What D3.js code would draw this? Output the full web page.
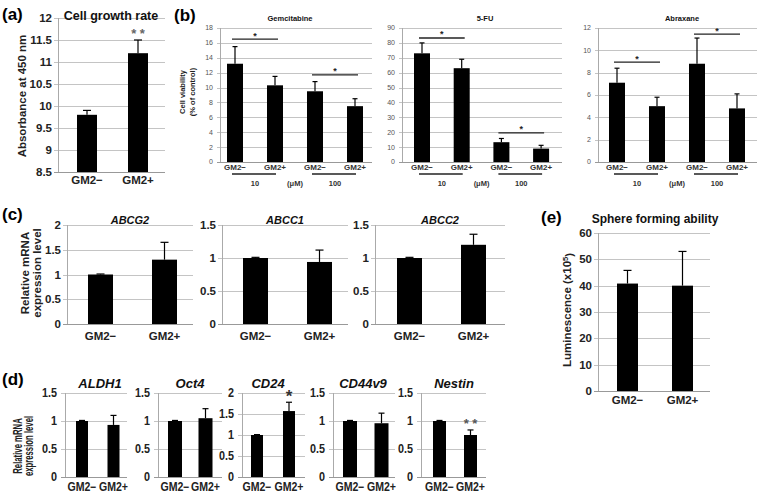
<!DOCTYPE html>
<html><head><meta charset="utf-8">
<script src="https://cdn.jsdelivr.net/npm/d3@7/dist/d3.min.js"></script>
<style>body{margin:0;background:#fff}svg{display:block}text{font-family:"Liberation Sans",Arial,sans-serif}</style>
</head><body>
<script>
// ---------- DATA ----------
const groupLabels = ["GM2−", "GM2+"];
const drugLabels = ["GM2−", "GM2+", "GM2−", "GM2+"];
const doseLabels = ["10", "100"];

const growthVals = [9.8, 11.2];
const growthErr = [0.1, 0.3];
const growthTicks = [8.5, 9, 9.5, 10, 10.5, 11, 11.5, 12];

const gemVals = [13.2, 10.3, 9.5, 7.5];
const gemErr = [2.3, 1.2, 1.3, 1.0];
const gemSig = [16.5, 11.7];
const gemTicks = [0, 2, 4, 6, 8, 10, 12, 14, 16, 18];

const fuVals = [73, 63, 13.3, 9];
const fuErr = [7, 6, 2.5, 2.2];
const fuSig = [83.3, 19.5];
const fuTicks = [0, 10, 20, 30, 40, 50, 60, 70, 80, 90];

const abrVals = [7.1, 5.0, 8.8, 4.8];
const abrErr = [1.3, 0.8, 2.3, 1.3];
const abrSig = [8.95, 11.45];
const abrTicks = [0, 2, 4, 6, 8, 10, 12];

const abcg2Vals = [1.0, 1.3], abcg2Err = [0.01, 0.35];
const abcc1Vals = [1.0, 0.94], abcc1Err = [0.01, 0.18];
const abcc2Vals = [1.0, 1.2], abcc2Err = [0.01, 0.16];
const ticks2 = [0, 0.5, 1, 1.5, 2];
const ticks15 = [0, 0.5, 1, 1.5];

const sphereVals = [40.8, 40.0], sphereErr = [5, 13];
const sphereTicks = [0, 10, 20, 30, 40, 50, 60];

const aldh1Vals = [1.0, 0.93], aldh1Err = [0.01, 0.17];
const oct4Vals = [1.0, 1.05], oct4Err = [0.01, 0.17];
const cd24Vals = [1.0, 1.57], cd24Err = [0.01, 0.21];
const cd44Vals = [1.0, 0.96], cd44Err = [0.01, 0.18];
const nestinVals = [1.0, 0.75], nestinErr = [0.01, 0.09];

// ---------- DRAW ----------
const W = 758, H = 492;
const svg = d3.select("body").append("svg").attr("width", W).attr("height", H);

function panel(o, labels, vals, errs, ticks) {
  const g = svg.append("g");
  const y = d3.scaleLinear().domain([ticks[0], ticks[ticks.length - 1]]).range([o.bottom, o.top]);
  const n = labels.length;
  const pin = 1 - o.bw / o.step;
  const x = d3.scaleBand().domain(d3.range(n))
    .range([o.c0 - o.step / 2, o.c0 + o.step * (n - 0.5)])
    .paddingInner(pin).paddingOuter(pin / 2);
  g.selectAll("line.grid").data(ticks).join("line")
    .attr("x1", o.axisX - (o.tick || 4)).attr("x2", o.right)
    .attr("y1", d => Math.round(y(d)) + 0.5).attr("y2", d => Math.round(y(d)) + 0.5)
    .attr("stroke", d => d === ticks[0] ? "#999" : "#c4c4c4").attr("stroke-width", 1);
  g.append("line").attr("x1", o.axisX + 0.5).attr("x2", o.axisX + 0.5)
    .attr("y1", o.top).attr("y2", o.bottom).attr("stroke", "#aaa");
  g.selectAll("text.tk").data(ticks).join("text")
    .attr("transform", d => `translate(${o.axisX - (o.tickGap || 6)},${y(d)}) scale(${o.tkScale || 1},1)`)
    .attr("dy", "0.35em").attr("text-anchor", "end")
    .attr("font-size", o.tickSize).attr("font-weight", o.tickWeight || "bold")
    .attr("fill", o.tickColor || "#222")
    .text(d => d);
  g.selectAll("rect.bar").data(vals).join("rect")
    .attr("x", (d, i) => x(i)).attr("width", x.bandwidth())
    .attr("y", d => y(d)).attr("height", d => y(ticks[0]) - y(d))
    .attr("fill", "#000");
  const cap = o.cap || 6;
  vals.forEach((v, i) => {
    const cx = x(i) + x.bandwidth() / 2;
    g.append("line").attr("x1", cx).attr("x2", cx).attr("y1", y(v)).attr("y2", y(v + errs[i]))
      .attr("stroke", "#000").attr("stroke-width", 1.2);
    g.append("line").attr("x1", cx - cap / 2).attr("x2", cx + cap / 2)
      .attr("y1", y(v + errs[i])).attr("y2", y(v + errs[i]))
      .attr("stroke", "#000").attr("stroke-width", 1.2);
  });
  g.selectAll("text.xl").data(labels).join("text")
    .attr("transform", (d, i) => `translate(${x(i) + x.bandwidth() / 2},${o.xlY}) scale(${o.xlScale || 1},1)`)
    .attr("text-anchor", "middle").attr("font-size", o.xlSize).attr("font-weight", "bold")
    .attr("fill", o.xlColor || "#222").text(d => d);
  if (o.title) {
    svg.append("text").attr("x", o.titleX != null ? o.titleX : (o.axisX + o.right) / 2)
      .attr("y", o.titleY).attr("text-anchor", "middle")
      .attr("font-size", o.titleSize).attr("font-weight", "bold")
      .attr("font-style", o.italic ? "italic" : "normal").attr("fill", "#111").text(o.title);
  }
  return { x, y, g, cx: i => x(i) + x.bandwidth() / 2 };
}

function letter(t, x, y) {
  svg.append("text").attr("x", x).attr("y", y).attr("font-size", 17).attr("font-weight", "bold")
    .attr("fill", "#000").text(t);
}
function vlabel(lines, cx, cy, size, gap, sc) {
  lines.forEach((l, k) => {
    const xx = cx + (k - (lines.length - 1) / 2) * gap;
    const t = svg.append("text").attr("transform", `translate(${xx},${cy}) rotate(-90) scale(${sc || 1},1)`)
      .attr("text-anchor", "middle").attr("dy", "0.35em").attr("font-size", size)
      .attr("font-weight", "bold").attr("fill", "#222");
    if (Array.isArray(l)) {
      t.append("tspan").text(l[0]);
      t.append("tspan").attr("dy", "-0.4em").attr("font-size", size * 0.65).text(l[1]);
      t.append("tspan").attr("dy", "0.4em").text(l[2]);
    } else t.text(l);
  });
}
function star(txt, x, y, size, color) {
  svg.append("text").attr("x", x).attr("y", y).attr("text-anchor", "middle")
    .attr("font-size", size).attr("font-weight", "bold").attr("fill", color || "#000").text(txt);
}

// (a)
letter("(a)", 2, 20);
const pa = panel({ axisX: 58, right: 165, top: 18, bottom: 172, c0: 87, step: 51, bw: 20,
  tickSize: 11.5, xlY: 184, xlSize: 11.5, title: "Cell growth rate", titleX: 111, titleY: 20, titleSize: 12.5, cap: 8 },
  groupLabels, growthVals, growthErr, growthTicks);
vlabel(["Absorbance at 450 nm"], 22, 96, 11.5, 0);
star("* *", pa.cx(1), 38, 13, "#666");

// (b)
letter("(b)", 174, 21);
const bOpt = { top: 28, bottom: 162, step: 40, bw: 16, tickSize: 7, tickWeight: "normal", tickColor: "#555",
  tickGap: 7, xlY: 170, xlSize: 8, xlColor: "#333", titleY: 21, titleSize: 7.5, cap: 5, tick: 3 };
const drugs = [
  { o: { axisX: 220, right: 372, c0: 235, title: "Gemcitabine", titleX: 290 }, v: gemVals, e: gemErr, s: gemSig, t: gemTicks },
  { o: { axisX: 402, right: 562, c0: 422, step: 39.7, title: "5-FU", titleX: 485 }, v: fuVals, e: fuErr, s: fuSig, t: fuTicks },
  { o: { axisX: 598, right: 757, c0: 617, title: "Abraxane", titleX: 682 }, v: abrVals, e: abrErr, s: abrSig, t: abrTicks }
];
drugs.forEach(d => {
  const p = panel(Object.assign({}, bOpt, d.o), drugLabels, d.v, d.e, d.t);
  [[0, 1], [2, 3]].forEach((pr, k) => {
    const yy = p.y(d.s[k]);
    svg.append("line").attr("x1", p.cx(pr[0]) - 3).attr("x2", p.cx(pr[1]) + 3)
      .attr("y1", yy).attr("y2", yy).attr("stroke", "#222").attr("stroke-width", 1.3);
    star("*", (p.cx(pr[0]) + p.cx(pr[1])) / 2, yy - 0.5, 9, "#222");
    svg.append("line").attr("x1", p.cx(pr[0]) - 3).attr("x2", p.cx(pr[1]) + 1)
      .attr("y1", 174).attr("y2", 174).attr("stroke", "#222").attr("stroke-width", 1.3);
    svg.append("text").attr("x", (p.cx(pr[0]) + p.cx(pr[1])) / 2).attr("y", 186)
      .attr("text-anchor", "middle").attr("font-size", 7.5).attr("font-weight", "bold").attr("fill", "#333")
      .text(doseLabels[k]);
  });
  svg.append("text").attr("x", (p.cx(1) + p.cx(2)) / 2).attr("y", 186)
    .attr("text-anchor", "middle").attr("font-size", 7.5).attr("font-weight", "bold").attr("fill", "#333").text("(μM)");
});
vlabel(["Cell viability", "(% of control)"], 187, 92, 7.5, 10);

// (c)
letter("(c)", 2, 220);
const cOpt = { top: 225, bottom: 324, step: 64, bw: 25, tickSize: 11.5, xlY: 340, xlSize: 11.5,
  titleY: 224, titleSize: 11, italic: true, cap: 8 };
panel(Object.assign({}, cOpt, { axisX: 67, right: 193, c0: 100.5, title: "ABCG2" }), groupLabels, abcg2Vals, abcg2Err, ticks2);
panel(Object.assign({}, cOpt, { axisX: 222, right: 348, c0: 255.5, title: "ABCC1" }), groupLabels, abcc1Vals, abcc1Err, ticks15);
panel(Object.assign({}, cOpt, { axisX: 375, right: 505, c0: 409.5, title: "ABCC2" }), groupLabels, abcc2Vals, abcc2Err, ticks15);
vlabel(["Relative mRNA", "expression level"], 31, 273, 11.5, 12);

// (e)
letter("(e)", 541, 223);
panel({ axisX: 598, right: 710, top: 233, bottom: 391, c0: 627.5, step: 55, bw: 21, tickSize: 11.5,
  xlY: 404, xlSize: 11.5, title: "Sphere forming ability", titleX: 655, titleY: 223, titleSize: 12, cap: 8 },
  groupLabels, sphereVals, sphereErr, sphereTicks);
vlabel([["Luminescence (x10", "5", ")"]], 567, 310, 11.5, 0);

// (d)
letter("(d)", 2, 385);
const dOpt = { top: 393, bottom: 477, tickSize: 12, tkScale: 0.9, xlY: 491, xlSize: 12, xlScale: 0.88,
  titleY: 388, titleSize: 13, italic: true, cap: 6, tickGap: 8 };
panel(Object.assign({}, dOpt, { axisX: 65, right: 127, c0: 82, step: 31.5, bw: 12, title: "ALDH1", titleX: 100 }), groupLabels, aldh1Vals, aldh1Err, ticks15);
panel(Object.assign({}, dOpt, { axisX: 158, right: 222, c0: 175, step: 30.5, bw: 14, title: "Oct4", titleX: 190 }), groupLabels, oct4Vals, oct4Err, ticks15);
const p24 = panel(Object.assign({}, dOpt, { axisX: 242, right: 305, c0: 257, step: 32, bw: 12, title: "CD24", titleX: 268 }), groupLabels, cd24Vals, cd24Err, ticks2);
panel(Object.assign({}, dOpt, { axisX: 333, right: 395, c0: 350, step: 31.5, bw: 14, title: "CD44v9", titleX: 363 }), groupLabels, cd44Vals, cd44Err, ticks15);
const pn = panel(Object.assign({}, dOpt, { axisX: 421, right: 486, c0: 439.5, step: 31, bw: 13, title: "Nestin", titleX: 454 }), groupLabels, nestinVals, nestinErr, ticks15);
vlabel(["Relative mRNA", "expression level"], 23, 446, 12.5, 11, 0.62);
star("*", p24.cx(1), 402, 17, "#333");
star("* *", pn.cx(1), 428, 13, "#555");
</script>
</body></html>
